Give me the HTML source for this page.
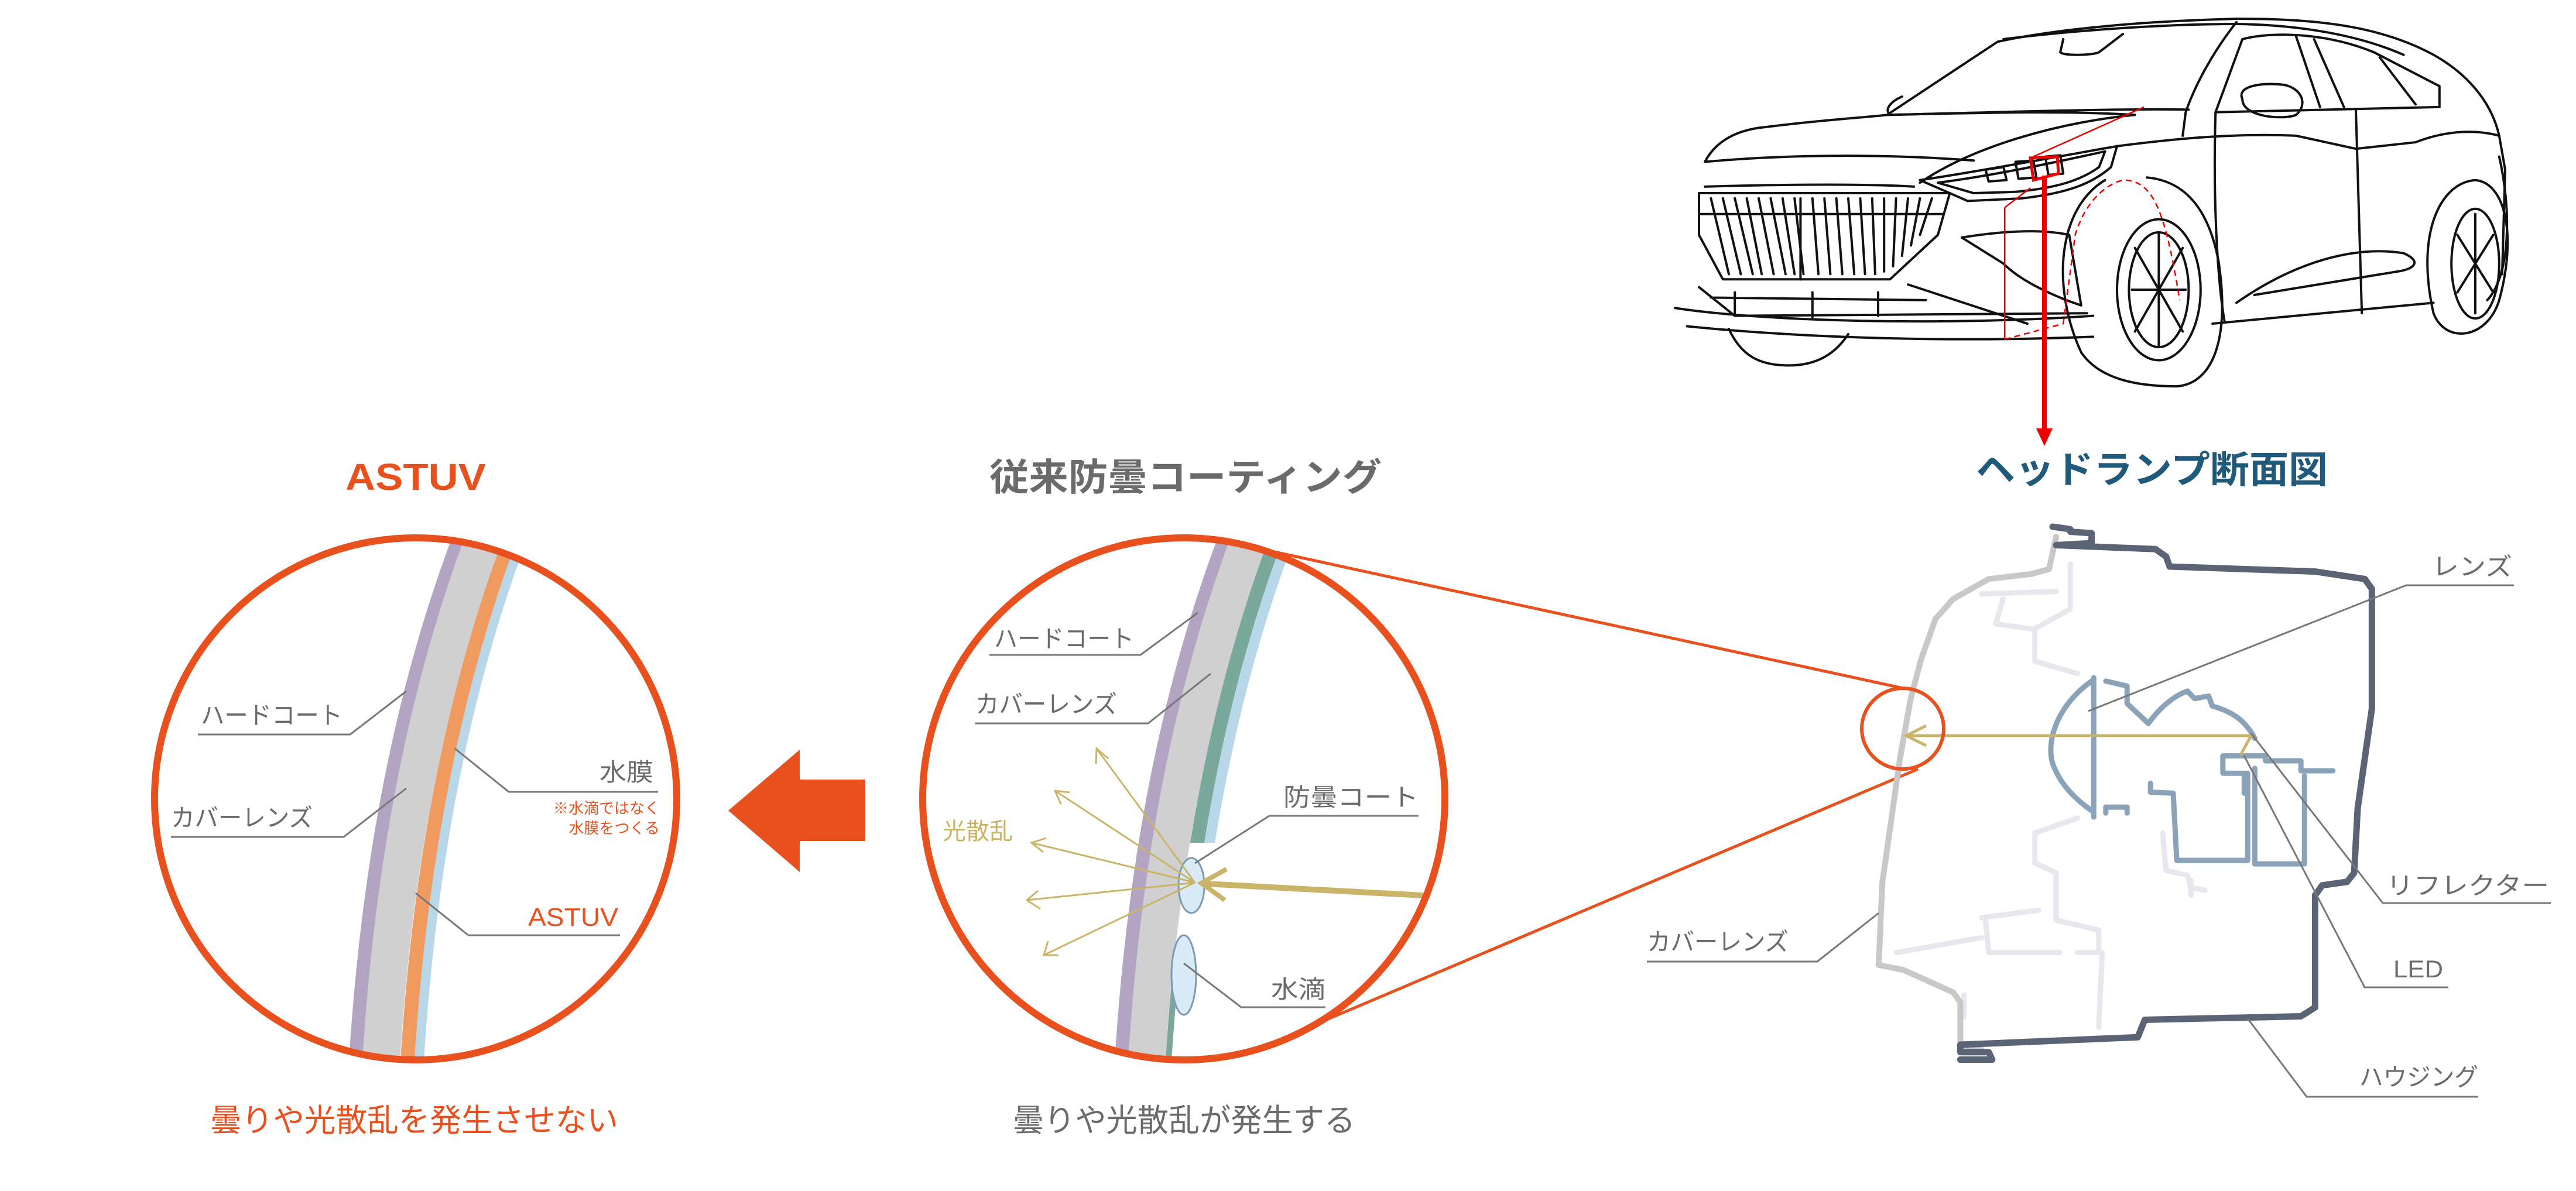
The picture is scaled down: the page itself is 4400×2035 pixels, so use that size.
<!DOCTYPE html>
<html><head><meta charset="utf-8"><style>
html,body{margin:0;padding:0;background:#fff;}
svg{display:block;}
text{font-family:"Liberation Sans","Noto Sans CJK JP",sans-serif;}
.lb{fill:#6b6b6b;font-size:42px;}
.ld{stroke:#777;stroke-width:3;fill:none;}
</style></head><body>
<svg width="4400" height="2035" viewBox="0 0 4400 2035" xmlns="http://www.w3.org/2000/svg">
<defs>
<clipPath id="cL"><circle cx="710" cy="1365" r="446"/></clipPath>
<clipPath id="cM"><circle cx="2022" cy="1365" r="446"/></clipPath>
<clipPath id="cMtop"><rect x="1500" y="800" width="1000" height="640"/></clipPath>
<clipPath id="cMbot"><rect x="1500" y="1660" width="1000" height="300"/></clipPath>
</defs>

<!-- ===== Car (zoom3 coordinate space) ===== -->
<g transform="translate(2800,0) scale(1.02,0.446)" fill="none" stroke="#111" stroke-width="4" vector-effect="non-scaling-stroke" stroke-linejoin="round" stroke-linecap="round">
<g style="vector-effect:non-scaling-stroke">
<path vector-effect="non-scaling-stroke" d="M415,440 L600,160 C700,110 850,80 1000,72 C1150,70 1250,110 1330,210 C1400,300 1430,420 1440,520 L1450,650 L1445,1050"/>
<path vector-effect="non-scaling-stroke" d="M610,150 C750,110 900,92 1000,92 C1100,95 1200,130 1280,210"/>
<path vector-effect="non-scaling-stroke" d="M420,440 C600,430 800,415 920,420"/>
<path vector-effect="non-scaling-stroke" d="M440,370 C420,390 410,420 420,440"/>
<path vector-effect="non-scaling-stroke" d="M710,150 L705,200 C710,215 760,212 770,200 L810,130"/>
<path vector-effect="non-scaling-stroke" d="M1000,85 C960,200 930,330 915,430 L910,520"/>
<path vector-effect="non-scaling-stroke" d="M965,430 L1010,150 C1060,120 1150,125 1230,200 L1340,330 L1340,410 L965,430"/>
<path vector-effect="non-scaling-stroke" d="M1100,140 L1140,410 M1130,150 L1180,410 M1240,220 L1300,400"/>
<path vector-effect="non-scaling-stroke" d="M1010,380 C1000,330 1040,315 1080,325 C1110,340 1120,400 1100,440 C1080,460 1010,450 1010,380 Z"/>
<path vector-effect="non-scaling-stroke" d="M110,620 C130,530 170,500 200,490 C300,460 380,450 415,440 C600,430 720,425 830,440 C700,470 560,560 470,700"/>
<path vector-effect="non-scaling-stroke" d="M110,620 C250,590 420,590 560,615"/>
<path vector-effect="non-scaling-stroke" d="M110,715 C250,705 400,705 460,715"/>
<path vector-effect="non-scaling-stroke" d="M470,690 C560,660 700,600 800,560 L790,640 C760,700 720,740 640,760 L550,770 Z"/>
<path vector-effect="non-scaling-stroke" d="M500,700 C600,670 700,620 780,580 L770,640 C740,690 700,720 630,735 L560,740 Z"/>
<path vector-effect="non-scaling-stroke" d="M580,650 L610,640 L615,690 L585,695 Z M630,620 L660,615 L665,680 L635,685 Z M680,600 L705,595 L710,665 L685,670 Z"/>
<path vector-effect="non-scaling-stroke" d="M100,740 L520,740 L500,900 L420,1070 L140,1070 L100,900 Z"/>
<path vector-effect="non-scaling-stroke" d="M120,760 L150,1050 M140,760 L170,1050 M160,760 L190,1050 M180,760 L205,1050 M200,760 L225,1050 M220,760 L245,1050 M240,760 L260,1050 M260,760 L275,1050 M290,760 L300,1050 M310,760 L320,1050 M330,760 L340,1050 M350,760 L360,1050 M370,760 L378,1050 M390,760 L395,1050 M410,760 L410,1040 M430,760 L425,1020 M450,760 L440,980 M470,760 L455,940 M490,760 L470,900"/>
<path vector-effect="non-scaling-stroke" d="M100,820 L510,820 M270,760 L270,1070"/>
<path vector-effect="non-scaling-stroke" d="M60,1180 C200,1230 500,1250 760,1210 M80,1250 C300,1300 550,1310 760,1290 M100,1100 L160,1210 L750,1200 M120,1140 L480,1150 M160,1120 L160,1210 M290,1120 L290,1215 M400,1120 L400,1210"/>
<path vector-effect="non-scaling-stroke" d="M450,1090 L650,1240 M540,910 C620,880 680,880 720,900 L740,1170 C700,1140 640,1080 610,1010 Z"/>
<path vector-effect="non-scaling-stroke" d="M150,1260 C170,1360 200,1400 250,1400 C300,1400 330,1350 350,1280"/>
<path vector-effect="non-scaling-stroke" d="M780,690 C700,800 690,1100 740,1350 C770,1450 830,1480 900,1480 C960,1470 990,1300 970,1000 C950,760 900,690 850,680"/>
<ellipse vector-effect="non-scaling-stroke" cx="870" cy="1110" rx="70" ry="270"/>
<ellipse vector-effect="non-scaling-stroke" cx="870" cy="1110" rx="50" ry="220"/>
<path vector-effect="non-scaling-stroke" d="M870,890 L870,1330 M830,950 L910,1270 M910,950 L830,1270 M825,1110 L915,1110"/>
<path vector-effect="non-scaling-stroke" d="M800,560 C900,530 1000,510 1100,520 L1200,570 L1300,545 C1350,500 1400,495 1440,520"/>
<path vector-effect="non-scaling-stroke" d="M965,430 C960,800 970,1100 980,1230 M1200,420 L1210,1200"/>
<path vector-effect="non-scaling-stroke" d="M960,1240 L1330,1160 M1000,1160 C1100,1000 1200,940 1280,970 C1310,1000 1300,1030 1270,1040 L1030,1130"/>
<path vector-effect="non-scaling-stroke" d="M1330,1200 C1300,900 1340,700 1400,690 C1450,700 1470,900 1440,1150 C1420,1300 1350,1320 1330,1200"/>
<ellipse vector-effect="non-scaling-stroke" cx="1400" cy="1010" rx="40" ry="210"/>
<path vector-effect="non-scaling-stroke" d="M1400,820 L1400,1200 M1370,900 L1430,1120 M1430,900 L1370,1120"/>
<path vector-effect="non-scaling-stroke" d="M1440,600 C1460,800 1460,1050 1420,1150"/>
</g>
</g>
<!-- red lines on car -->
<g transform="translate(2800,0) scale(1.02,0.446)" fill="none" stroke="#e00" >
<path vector-effect="non-scaling-stroke" stroke-width="5" d="M655,605 L700,600 L702,665 L660,690 Z"/>
<path vector-effect="non-scaling-stroke" stroke-width="2.5" d="M660,600 L845,410 M612,795 L612,1300 M612,795 L655,720"/>
<path vector-effect="non-scaling-stroke" stroke-width="2.5" stroke-dasharray="10,7" d="M612,1300 L710,1240 L730,900 C750,750 790,700 810,690 C860,690 880,800 905,1150"/>
</g>
<line x1="3492" y1="300" x2="3492" y2="735" stroke="#e00" stroke-width="8"/>
<polygon points="3478,732 3506,732 3492,762" fill="#e00"/>

<!-- ===== Titles ===== -->
<text x="710" y="837" text-anchor="middle" font-size="64" font-weight="bold" fill="#e8501e" textLength="240" lengthAdjust="spacingAndGlyphs">ASTUV</text>
<text x="1690" y="838" font-size="64" font-weight="bold" fill="#6b6b6b" textLength="670" lengthAdjust="spacingAndGlyphs">従来防曇コーティング</text>
<text x="3375" y="825" font-size="64" font-weight="bold" fill="#1f5a7a" textLength="601" lengthAdjust="spacingAndGlyphs">ヘッドランプ断面図</text>

<!-- ===== Left circle (ASTUV) ===== -->
<g clip-path="url(#cL)" fill="none">
<path d="M607,1830 Q638,1296 792,900" stroke="#b3a4c4" stroke-width="24"/>
<path d="M650,1830 Q681,1296 835,900" stroke="#d0d0d0" stroke-width="64"/>
<path d="M695,1830 Q726,1296 880,900" stroke="#f09a60" stroke-width="24"/>
<path d="M715,1830 Q746,1296 900,900" stroke="#b8d8ea" stroke-width="16"/>
</g>
<circle cx="710" cy="1365" r="446" fill="none" stroke="#e8501e" stroke-width="12"/>
<text class="lb" x="343" y="1237" textLength="242" lengthAdjust="spacingAndGlyphs">ハードコート</text>
<path class="ld" d="M338,1255 L598,1255 L694,1181"/>
<text class="lb" x="292" y="1412" textLength="242" lengthAdjust="spacingAndGlyphs">カバーレンズ</text>
<path class="ld" d="M292,1430 L587,1430 L694,1347"/>
<text class="lb" x="1024" y="1334" textLength="92" lengthAdjust="spacingAndGlyphs">水膜</text>
<path class="ld" d="M1124,1353 L869,1353 L777,1279"/>
<text x="1127" y="1390" text-anchor="end" font-size="26" fill="#e8501e">※水滴ではなく</text>
<text x="1127" y="1424" text-anchor="end" font-size="26" fill="#e8501e">水膜をつくる</text>
<text x="902" y="1582" font-size="44" fill="#e8501e" textLength="154" lengthAdjust="spacingAndGlyphs">ASTUV</text>
<path class="ld" d="M1059,1598 L800,1598 L710,1526"/>

<!-- big arrow -->
<polygon points="1244,1385 1366,1281 1366,1332 1478,1332 1478,1437 1366,1437 1366,1490" fill="#e8501e"/>

<!-- ===== Middle circle ===== -->
<g clip-path="url(#cM)" fill="none">
<path d="M1915,1830 Q1946,1296 2100,900" stroke="#b3a4c4" stroke-width="24"/>
<path d="M1958,1830 Q1989,1296 2143,900" stroke="#d0d0d0" stroke-width="64"/>
<g clip-path="url(#cMtop)">
<path d="M2004,1830 Q2035,1296 2189,900" stroke="#7aa89a" stroke-width="26"/>
<path d="M2024,1830 Q2055,1296 2209,900" stroke="#b8d8ea" stroke-width="18"/>
</g>
<g clip-path="url(#cMbot)">
<path d="M1995,1830 Q2026,1296 2180,900" stroke="#7aa89a" stroke-width="10"/>
</g>
</g>
<ellipse cx="2035" cy="1513" rx="22" ry="47" fill="#d8ebf7" stroke="#7d9bb0" stroke-width="3"/>
<ellipse cx="2022" cy="1666" rx="21" ry="68" fill="#d8ebf7" stroke="#7d9bb0" stroke-width="3"/>
<!-- scatter -->
<g stroke="#c9b46a" stroke-width="3" fill="none">
<line x1="2041" y1="1508" x2="1873" y2="1279"/>
<line x1="2041" y1="1508" x2="1802" y2="1351"/>
<line x1="2041" y1="1508" x2="1762" y2="1440"/>
<line x1="2041" y1="1508" x2="1754" y2="1538"/>
<line x1="2041" y1="1508" x2="1783" y2="1632"/>
<path d="M1872,1305 L1873,1279 L1893,1296"/>
<path d="M1812,1374 L1802,1351 L1827,1354"/>
<path d="M1782,1456 L1762,1440 L1787,1432"/>
<path d="M1777,1553 L1754,1538 L1773,1522"/>
<path d="M1808,1632 L1783,1632 L1790,1608"/>
</g>
<line x1="2431" y1="1530" x2="2060" y2="1510" stroke="#c9b46a" stroke-width="10"/>
<path d="M2095,1485 L2052,1509 L2092,1538" stroke="#c9b46a" stroke-width="8" fill="none"/>
<text x="1610" y="1434" font-size="40" fill="#c9b46a" textLength="120" lengthAdjust="spacingAndGlyphs">光散乱</text>
<circle cx="2022" cy="1365" r="446" fill="none" stroke="#e8501e" stroke-width="12"/>
<text class="lb" x="1698" y="1106" textLength="239" lengthAdjust="spacingAndGlyphs">ハードコート</text>
<path class="ld" d="M1690,1119 L1948,1119 L2046,1047"/>
<text class="lb" x="1666" y="1218" textLength="242" lengthAdjust="spacingAndGlyphs">カバーレンズ</text>
<path class="ld" d="M1666,1236 L1961,1236 L2068,1151"/>
<text class="lb" x="2192" y="1377" textLength="231" lengthAdjust="spacingAndGlyphs">防曇コート</text>
<path class="ld" d="M2423,1394 L2168,1394 L2041,1475"/>
<text class="lb" x="2171" y="1705" textLength="93" lengthAdjust="spacingAndGlyphs">水滴</text>
<path class="ld" d="M2264,1721 L2120,1721 L2022,1646"/>

<!-- connecting orange lines -->
<line x1="2177" y1="943" x2="3251" y2="1176" stroke="#e8501e" stroke-width="5"/>
<line x1="2264" y1="1743" x2="3276" y2="1314" stroke="#e8501e" stroke-width="5"/>

<!-- ===== Headlamp (zoom2 coordinate space) ===== -->
<g transform="translate(2500,700) scale(1.212,0.851)" fill="none" stroke-linejoin="round" stroke-linecap="round">
<!-- faint internal structure -->
<path vector-effect="non-scaling-stroke" stroke="#e6e8ee" stroke-width="9" d="M855,310 L855,400 L805,440 L805,505 L865,530 M730,370 L835,365 M760,380 L750,430 L800,440 M865,820 L805,850 L805,910 L835,930 L835,1025 L895,1045 L895,1090 M730,1020 L810,1005 M735,1020 L740,1090 L840,1090 M610,1090 L730,1060 M865,1090 L900,1090 L895,1240 M705,1175 L705,1220 M985,850 L990,925 L1020,935 L1025,960 L1045,965 M1025,945 L1025,975"/>
<!-- cover lens -->
<path vector-effect="non-scaling-stroke" stroke="#c8c8c8" stroke-width="10" d="M835,255 L825,320 L800,330 L740,340 L690,380 L665,420 L645,500 L630,580 L615,700 L600,850 L590,950 L585,1115 L620,1125 L690,1170 L700,1190 L700,1280 L730,1285"/>
<!-- housing -->
<path vector-effect="non-scaling-stroke" stroke="#5a6474" stroke-width="11" d="M830,235 L855,240 L855,245 L885,248 L885,268 L835,272 L975,280 L990,295 L995,315 L1200,325 L1270,340 L1280,360 L1280,600 L1270,700 L1260,800 L1255,930 L1245,948 L1210,955 L1200,975 L1200,1200 L1180,1218 L960,1225 L950,1260 L700,1275 L700,1290 L740,1290 L745,1305 L700,1305"/>
<!-- lens -->
<path vector-effect="non-scaling-stroke" stroke="#8aa3b8" stroke-width="9" d="M888,538 L888,818 M885,545 C840,590 820,660 830,710 C840,750 860,780 885,805"/>
<path vector-effect="non-scaling-stroke" stroke="#8aa3b8" stroke-width="9" d="M905,545 L935,555 L935,590 L965,630 C980,600 1000,575 1020,565 L1030,580 L1050,575 L1055,595 C1080,605 1100,620 1115,660 M905,810 L905,798 L935,798 L935,810"/>
<path vector-effect="non-scaling-stroke" stroke="#8aa3b8" stroke-width="9" d="M968,750 L968,768 L1000,770 L1005,905 L1105,905 L1105,730 L1070,730 L1070,695 L1130,695 L1130,705 L1180,705 L1180,725 L1225,725 M1115,720 L1115,912 L1185,912 L1185,735 M1100,730 L1100,770"/>
</g>
<!-- beam -->
<line x1="3845" y1="1257" x2="3256" y2="1257" stroke="#c9b46a" stroke-width="5"/>
<line x1="3845" y1="1257" x2="3827" y2="1290" stroke="#c9b46a" stroke-width="5"/>
<path d="M3290,1240 L3256,1257 L3290,1274" stroke="#c9b46a" stroke-width="5" fill="none"/>
<ellipse cx="3250" cy="1245" rx="70" ry="69" fill="none" stroke="#e8501e" stroke-width="6"/>

<!-- headlamp labels -->
<text class="lb" x="4154" y="983" textLength="137" lengthAdjust="spacingAndGlyphs">レンズ</text>
<path class="ld" d="M4294,1000 L4110,1000 L3567,1215"/>
<text class="lb" x="4076" y="1528" textLength="278" lengthAdjust="spacingAndGlyphs">リフレクター</text>
<path class="ld" d="M4357,1543 L4070,1543 L3845,1253"/>
<text class="lb" x="4088" y="1670" textLength="85" lengthAdjust="spacingAndGlyphs">LED</text>
<path class="ld" d="M4182,1687 L4039,1687 L3833,1291"/>
<text class="lb" x="4030" y="1855" textLength="203" lengthAdjust="spacingAndGlyphs">ハウジング</text>
<path class="ld" d="M4233,1874 L3940,1874 L3839,1740"/>
<text class="lb" x="2813" y="1624" textLength="242" lengthAdjust="spacingAndGlyphs">カバーレンズ</text>
<path class="ld" d="M2813,1643 L3104,1643 L3209,1560"/>

<!-- captions -->
<text x="359" y="1933" font-size="54" fill="#e8501e" textLength="697" lengthAdjust="spacingAndGlyphs">曇りや光散乱を発生させない</text>
<text x="1730" y="1933" font-size="54" fill="#6b6b6b" textLength="585" lengthAdjust="spacingAndGlyphs">曇りや光散乱が発生する</text>
</svg>
</body></html>
